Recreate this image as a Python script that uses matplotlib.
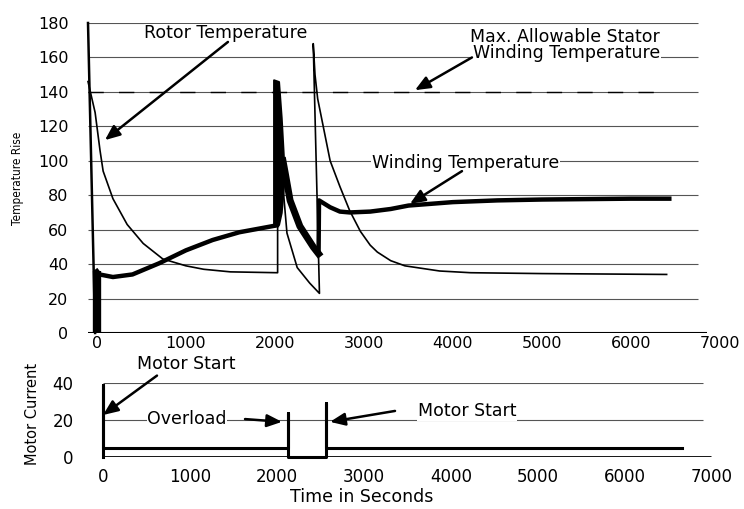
import matplotlib
matplotlib.use("Agg")
import matplotlib.pyplot as plt

plt.rcParams['font.family'] = ['DejaVu Sans']

# ---------------- data: top panel (temperature rise) ----------------
temp_ticks = [0, 20, 40, 60, 80, 100, 120, 140, 160, 180]
time_ticks = [0, 1000, 2000, 3000, 4000, 5000, 6000, 7000]

max_allow_t = [-100, 6290]
max_allow_v = [140, 140]

rotor_start_t = [-20, -100]
rotor_start_v = [0, 180]

rotor_t = [-100, -20, 35, 70, 180, 340, 520, 740, 1000, 1200, 1500, 2030,
           2030, 2080, 2135, 2250, 2390, 2500,
           2430, 2450, 2480, 2620, 2730, 2840, 2960, 3070, 3150, 3300, 3460,
           3850, 4200, 5000, 6400]
rotor_v = [146, 128, 106, 94, 78, 63, 52, 43, 39, 37, 35.5, 35,
           63, 91, 58, 38, 29, 23,
           168, 150, 136, 100, 85, 71, 59, 51, 47, 42, 39,
           36, 35, 34.5, 34]

winding_bar_t = [0, 0]
winding_bar_v = [0, 36]

winding1_t = [0, 30, 180, 400, 700, 1000, 1300, 1600, 2020]
winding1_v = [36, 34, 32.5, 34, 40.5, 48, 54, 58.5, 62.5]

band_t = [1985, 2040, 2070, 2100]
band_hi = [147, 146, 125, 97]
band_lo = [62, 63, 70, 88]

winding2_t = [2090, 2115, 2170, 2280, 2430, 2490]
winding2_v = [100, 93, 77, 62, 50, 46]

winding3_t = [2490, 2495, 2620, 2730, 2840, 3070, 3300, 3500, 4000, 4500,
              5000, 6000, 6430]
winding3_v = [46, 77, 73, 70.5, 70, 70.5, 72, 74, 76, 77, 77.5, 78, 78]

# ---------------- data: bottom panel (motor current) ----------------
current_ticks = [0, 20, 40]
current_t = [0, 0, 0, 2126, 2126, 2126, 2563, 2563, 2563, 6650]
current_v = [0, 39, 5, 5, 24, 0, 0, 29, 5, 5]

W, H = 744, 509
fig = plt.figure(figsize=(W / 100, H / 100), dpi=100)


def rect(l, r, top, bottom):
    return [l / W, 1 - bottom / H, (r - l) / W, (bottom - top) / H]


GRID = '#555555'
arrow_kw = dict(arrowstyle='-|>,head_length=0.9,head_width=0.38', lw=1.8,
                color='black', shrinkA=0, shrinkB=0)
TXT = 12.5

# ---------------- top axes ----------------
ax = fig.add_axes(rect(88, 724.5, 23, 333))
ax.set_xlim(-100, 7050)
ax.set_ylim(0, 180)
for s in ax.spines.values():
    s.set_visible(False)
ax.set_xticks(time_ticks)
ax.set_yticks(temp_ticks)
ax.tick_params(axis='both', length=0, labelsize=11.5)
ax.tick_params(axis='x', pad=2)
ax.tick_params(axis='y', pad=14)
for v in temp_ticks[1:]:
    ax.hlines(v, -100, 6750, color=GRID, lw=0.8, zorder=1)
ax.hlines(0, -100, 6850, color='black', lw=1.5, zorder=2)

ax.plot(max_allow_t, max_allow_v, color='black', lw=1.0, dashes=(11, 11), zorder=2)
ax.plot(rotor_start_t, rotor_start_v, color='black', lw=1.8, zorder=3, clip_on=False)
ax.plot(rotor_t, rotor_v, color='black', lw=1.2, zorder=3, clip_on=False)
ax.plot(winding_bar_t, winding_bar_v, color='black', lw=6, zorder=3, solid_capstyle='butt')
ax.plot(winding1_t, winding1_v, color='black', lw=3.2, zorder=3)
ax.fill_between(band_t, band_lo, band_hi, color='black', lw=1.5, zorder=3)
ax.plot(winding2_t, winding2_v, color='black', lw=5, zorder=3)
ax.plot(winding3_t, winding3_v, color='black', lw=3.2, zorder=3)

ax.set_ylabel('Temperature Rise', fontsize=8.5, fontstretch='condensed')
ax.yaxis.set_label_coords(-0.1, 0.5)

# annotations
ax.text(1449, 174, 'Rotor Temperature', ha='center', va='center', fontsize=TXT,
        bbox=dict(fc='white', ec='none', pad=0.5), zorder=4)
ax.annotate('', xy=(90, 112), xytext=(1472, 169), arrowprops=arrow_kw, zorder=5)

ax.text(6326, 167, 'Max. Allowable Stator\nWinding Temperature', ha='right',
        va='center', fontsize=TXT, multialignment='right', linespacing=0.85,
        bbox=dict(fc='white', ec='none', pad=0.5), zorder=4)
ax.annotate('', xy=(3573, 141), xytext=(4213, 160), arrowprops=arrow_kw, zorder=5)

ax.text(3090, 99, 'Winding Temperature', ha='left', va='center', fontsize=TXT,
        bbox=dict(fc='white', ec='none', pad=0.5), zorder=4)
ax.annotate('', xy=(3517, 75), xytext=(4101, 94), arrowprops=arrow_kw, zorder=5)

# ---------------- bottom axes ----------------
bx = fig.add_axes(rect(101.3, 716.4, 383, 457))
bx.set_xlim(-20, 7050)
bx.set_ylim(0, 40)
for s in bx.spines.values():
    s.set_visible(False)
bx.set_xticks(time_ticks)
bx.set_yticks(current_ticks)
bx.tick_params(axis='both', length=0, labelsize=12)
bx.tick_params(axis='x', pad=8)
bx.tick_params(axis='y', pad=20)
for v in current_ticks[1:]:
    bx.hlines(v, 0, 6900, color=GRID, lw=0.8, zorder=1)
bx.hlines(0, 0, 6990, color='black', lw=2, zorder=2)
bx.plot(current_t, current_v, color='black', lw=2.2, zorder=3, clip_on=False)

bx.set_xlabel('Time in Seconds', fontsize=12.5)
bx.xaxis.set_label_coords(0.424, -0.42)
bx.set_ylabel('Motor Current', fontsize=10.5)
bx.yaxis.set_label_coords(-0.1, 0.58)

bx.text(954, 50.3, 'Motor Start', ha='center', va='center', fontsize=TXT,
        clip_on=False, zorder=4)
bx.annotate('', xy=(0, 22.7), xytext=(620, 44), arrowprops=arrow_kw,
            annotation_clip=False, zorder=5)
bx.text(965, 20.5, 'Overload', ha='center', va='center', fontsize=TXT,
        bbox=dict(fc='white', ec='none', pad=0.5), zorder=4)
bx.annotate('', xy=(2057, 19), xytext=(1632, 20.5), arrowprops=arrow_kw, zorder=5)
bx.text(4184, 24.9, 'Motor Start', ha='center', va='center', fontsize=TXT,
        bbox=dict(fc='white', ec='none', pad=0.5), zorder=4)
bx.annotate('', xy=(2609, 19), xytext=(3356, 24.9), arrowprops=arrow_kw, zorder=5)

fig.savefig('out.png', dpi=100)
